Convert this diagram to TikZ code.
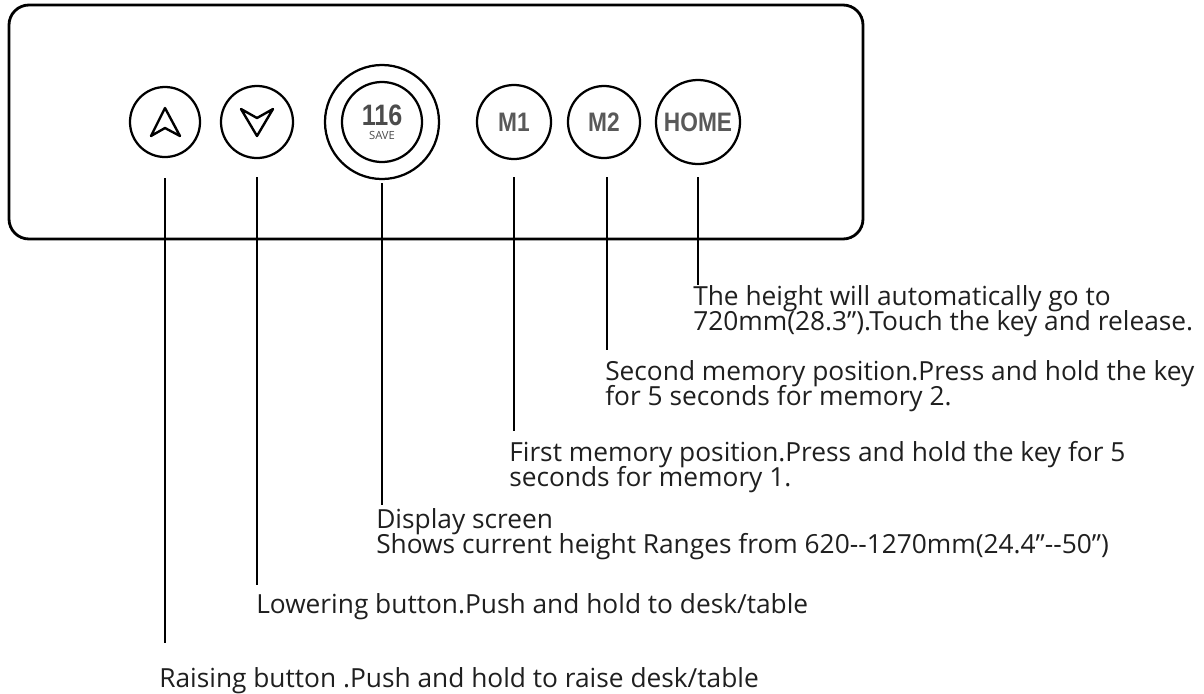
\documentclass[tikz,border=0pt]{standalone}
\usepackage{fontspec}
\setmainfont{Open Sans}
\newfontfamily\keyfont{Liberation Sans}[FakeStretch=0.85]
\usetikzlibrary{calc}
\setlength{\lineskiplimit}{-8pt}

\begin{document}
\begin{tikzpicture}[x=0.025cm,y=-0.025cm,
    key/.style={circle,draw,line width=1.6pt,inner sep=0pt,text=black!65,font=\keyfont\bfseries\fontsize{19}{19}\selectfont},
    lead/.style={line width=1.4pt},
    chev/.style={line width=1.7pt,line join=round},
    note/.style={anchor=base west,inner sep=0pt,align=left,text=black!88,font=\fontsize{18.7}{17.7}\selectfont}]
    \useasboundingbox (0,0) rectangle (1204,693);
    \draw[line width=2pt,rounded corners=0.5cm] (9,5) rectangle (863,239);
    \node[key,minimum size=1.75cm] (up) at (165,122) {};
    \node[key,minimum size=1.8cm] (down) at (257,122) {};
    \node[key,minimum size=2.85cm] (disp) at (382,122) {};
    \node[circle,draw,line width=1.6pt,minimum size=2cm,inner sep=0pt,align=center,text=black!70] (screen) at (disp)
      {\keyfont\bfseries\fontsize{21}{17}\selectfont 116\\[-2pt]\fontsize{8}{8}\selectfont SAVE};
    \node[key,minimum size=1.85cm] (mone) at (514,122) {M1};
    \node[key,minimum size=1.8cm] (mtwo) at (604,122) {M2};
    \node[key,minimum size=2.1cm] (home) at (698,122) {HOME};
    \draw[chev] ($(up)+(0,-14)$) -- ($(up)+(-14,14)$) -- ($(up)+(0,6)$) -- ($(up)+(15,14)$) -- cycle;
    \draw[chev] ($(down)+(0,14)$) -- ($(down)+(-16,-13)$) -- ($(down)+(0,-4)$) -- ($(down)+(16,-13)$) -- cycle;
    \node[note] (hometext) at (693,330) {The height will automatically go to\\720mm(28.3").Touch the key and release.};
    \node[note] (mtwotext) at (605,405) {Second memory position.Press and hold the key\\for 5 seconds for memory 2.};
    \node[note] (monetext) at (509,486) {First memory position.Press and hold the key for 5\\seconds for memory 1.};
    \node[note] (disptext) at (376,553) {Display screen\\Shows current height Ranges from 620-{}-1270mm(24.4"-{}-50")};
    \node[note] (downtext) at (256,613) {Lowering button.Push and hold to desk/table};
    \node[note] (uptext) at (159,687) {Raising button .Push and hold to raise desk/table};
    \coordinate (homeend) at (698,285);
    \coordinate (mtwoend) at (607,350);
    \coordinate (moneend) at (514,431);
    \coordinate (dispend) at (382,505);
    \coordinate (downend) at (257,585);
    \coordinate (upend) at (165,643);
    \draw[lead] (home) ++(0,55) -- (homeend);
    \draw[lead] (mtwo) ++(3,55) -- (mtwoend);
    \draw[lead] (mone) ++(0,55) -- (moneend);
    \draw[lead] (disp) ++(0,61) -- (dispend);
    \draw[lead] (down) ++(0,55) -- (downend);
    \draw[lead] (up) ++(0,56) -- (upend);
\end{tikzpicture}
\end{document}
